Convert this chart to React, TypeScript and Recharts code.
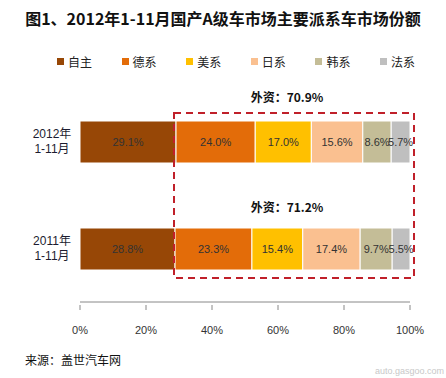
import React from "react";
import { Bar, BarChart, LabelList, XAxis, YAxis } from "recharts";

const periods = ["2012年\n1-11月", "2011年\n1-11月"];
const seriesNames = ["自主", "德系", "美系", "日系", "韩系", "法系"];
const zizhu = [29.1, 28.8];
const dexi = [24.0, 23.3];
const meixi = [17.0, 15.4];
const rixi = [15.6, 17.4];
const hanxi = [8.6, 9.7];
const faxi = [5.7, 5.5];
const foreignShare = ["70.9%", "71.2%"];
const xTicks = [0, 20, 40, 60, 80, 100];

const colors = ["#974706", "#E36C09", "#FFC000", "#FAC090", "#C4BD97", "#BFBFBF"];
const allSeries = [zizhu, dexi, meixi, rixi, hanxi, faxi];

const data = periods.map((p, i) => {
  const row: Record<string, string | number> = { period: p };
  seriesNames.forEach((n, k) => {
    row[n] = allSeries[k][i];
  });
  return row;
});

const font = "'Liberation Sans', Arial, 'Noto Sans CJK SC', sans-serif";
const cjk = "'Noto Sans CJK SC', sans-serif";

const YTick = (props: any) => {
  const { x, y, payload } = props;
  const lines = String(payload.value).split("\n");
  return (
    <text x={x - 20} y={y - 4} textAnchor="middle" fontSize={12} fill="#1c1c30" fontFamily={font}>
      {lines.map((l, i) => (
        <tspan key={i} x={x - 20} dy={i === 0 ? 0 : 15}>
          {l}
        </tspan>
      ))}
    </text>
  );
};

const XTick = (props: any) => {
  const { x, y, payload } = props;
  return (
    <g>
      <line x1={x} x2={x} y1={y - 5} y2={y} stroke="#888" />
      <text x={x} y={y + 24} textAnchor="middle" fontSize={11} fill="#333" fontFamily={font}>
        {payload.value}%
      </text>
    </g>
  );
};

export default function App() {
  return (
    <div style={{ position: "fixed", left: 0, top: 0, width: 446, height: 378, background: "#fff", fontFamily: font }}>
      <div style={{ position: "absolute", top: 6, left: 0, width: 446, textAlign: "center", fontSize: 16, fontWeight: "bold", color: "#111", fontFamily: cjk }}>
        图1、2012年1-11月国产A级车市场主要派系车市场份额
      </div>
      <div style={{ position: "absolute", top: 53, left: 57, display: "flex" }}>
        {seriesNames.map((n, k) => (
          <div key={n} style={{ width: 64.6, display: "flex", alignItems: "center", fontSize: 12, color: "#222", fontFamily: cjk }}>
            <span style={{ display: "inline-block", width: 7, height: 7, background: colors[k], marginRight: 4 }} />
            {n}
          </div>
        ))}
      </div>
      <BarChart
        width={446}
        height={378}
        data={data}
        layout="vertical"
        margin={{ top: 88, right: 36, bottom: 0, left: 8 }}
        barSize={42}
      >
        <XAxis
          type="number"
          domain={[0, 100]}
          allowDataOverflow
          ticks={xTicks}
          tick={<XTick />}
          tickLine={false}
          axisLine={{ stroke: "#888" }}
          height={76}
        />
        <YAxis type="category" dataKey="period" width={72} axisLine={false} tickLine={false} tick={<YTick />} />
        {seriesNames.map((n, k) => (
          <Bar key={n} dataKey={n} stackId="a" fill={colors[k]} stroke="#fff" strokeWidth={1} isAnimationActive={false}>
            <LabelList
              dataKey={n}
              position="center"
              formatter={(v: any) => Number(v).toFixed(1) + "%"}
              fill="#333"
              fontSize={11}
              fontFamily={font}
            />
          </Bar>
        ))}
      </BarChart>
      <svg width={446} height={378} style={{ position: "absolute", left: 0, top: 0, pointerEvents: "none" }}>
        <rect x={174} y={113} width={240} height={165} fill="none" stroke="#C0202A" strokeWidth={2} strokeDasharray="7 5" />
        {foreignShare.map((s, i) => (
          <text key={i} x={287} y={i === 0 ? 102 : 212} textAnchor="middle" fontSize={12} fontWeight="bold" fill="#111" fontFamily={cjk}>
            外资：{s}
          </text>
        ))}
        <text x={25} y={365} fontSize={12} fill="#111" fontFamily={cjk}>
          来源：盖世汽车网
        </text>
        <text x={444} y={374} textAnchor="end" fontSize={9} fill="#c8c8c8" fontFamily={font}>
          auto.gasgoo.com
        </text>
      </svg>
    </div>
  );
}
